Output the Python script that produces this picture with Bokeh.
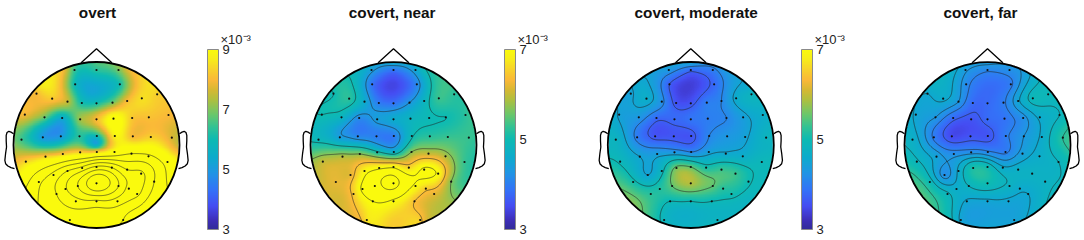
import numpy as np
from bokeh.embed import file_html
from bokeh.resources import INLINE
from bokeh.plotting import figure
from bokeh.layouts import row
from bokeh.models import ColorBar, LinearColorMapper, FixedTicker, Range1d
from bokeh.core.properties import value
from contourpy import contour_generator

TITLES = ["overt", "covert, near", "covert, moderate", "covert, far"]
TITLE_DX = [1, -1.3, 5.4, -7]
RANGES = [(3, 9), (3, 7), (3, 7), (3, 7)]
TICKS = [[3, 5, 7, 9], [3, 5, 7], [3, 5, 7], None]
LEVELS = [
    [10, 11, 12, 13, 14, 15],
    [4.3, 5.0, 5.7, 6.4, 7.1, 7.7],
    [3.7, 4.1, 4.5, 4.95, 5.5],
    [3.7, 4.05, 4.3, 4.55, 4.8, 5.2],
]

# electrode positions, offsets from head centre in units of 1/249 head radius
SENSOR_DX = [-66, 0, 66, -64, 70,
             -180, -133, -87, -44, 0, 48, 92, 136, 182,
             -215, -156, -103, -49, 0, 51, 107, 157, 216,
             -225, -161, -107, -51, 1, 55, 109, 163, 226,
             -212, -153, -101, -49, 1, 54, 105, 156, 213,
             -173, -129, -87, -43, 0, 46, 92, 134, 173,
             -120, -93, -56, 0, 66, 97, 122,
             -62, 0, 63, -80, 80]
SENSOR_DY = [225, 225, 225, 182, 182,
             154, 139, 130, 126, 125, 127, 132, 140, 152,
             91, 83, 81, 77, 77, 79, 81, 83, 90,
             16, 23, 26, 26, 27, 27, 26, 24, 22,
             -50, -35, -27, -22, -21, -21, -26, -34, -51,
             -111, -90, -78, -69, -66, -68, -74, -86, -110,
             -147, -132, -123, -115, -123, -131, -147,
             -169, -169, -169, -225, -225]

OVERT = [6.4, 6.3, 6.9, 5.9, 6.1,
         8.0, 8.2, 7.5, 6.1, 6.1, 6.9, 8.0, 8.5, 8.3,
         7.9, 6.8, 5.4, 7.2, 8.0, 9.3, 8.2, 8.1, 8.0,
         6.5, 5.0, 5.0, 6.3, 6.0, 8.8, 8.0, 8.3, 7.7,
         8.4, 8.3, 8.2, 8.3, 8.3, 9.2, 10.0, 10.2, 9.6,
         10.8, 11.3, 12.0, 12.3, 13.2, 13.0, 12.0, 12.2, 11.0,
         12.0, 12.9, 14.0, 16.0, 14.0, 12.7, 12.2,
         12.6, 12.8, 12.5, 11.6, 11.0]
NEAR = [4.4, 3.9, 4.5, 3.9, 4.1,
        5.0, 5.2, 4.6, 4.0, 3.9, 4.3, 4.8, 5.3, 5.2,
        5.0, 4.8, 4.15, 4.4, 4.6, 4.8, 4.95, 5.0, 5.2,
        4.9, 4.4, 4.1, 4.0, 4.0, 4.95, 5.2, 5.3, 5.3,
        6.0, 5.9, 5.7, 5.1, 4.7, 5.7, 6.0, 5.9, 5.3,
        6.2, 6.2, 6.9, 7.0, 7.0, 6.6, 7.2, 7.0, 5.7,
        6.5, 7.2, 7.5, 7.9, 7.0, 6.5, 6.2,
        7.1, 7.0, 6.4, 6.7, 6.5]
MODERATE = [4.3, 3.8, 4.0, 3.7, 3.8,
            4.45, 4.65, 4.2, 3.6, 3.6, 4.0, 4.1, 4.6, 4.8,
            4.45, 4.3, 3.8, 3.8, 3.9, 4.0, 4.1, 4.4, 4.65,
            4.8, 4.0, 3.6, 3.6, 3.6, 4.1, 4.3, 4.45, 4.8,
            4.9, 4.5, 4.4, 4.3, 4.1, 4.4, 4.55, 4.65, 4.9,
            5.05, 4.5, 4.85, 5.6, 5.5, 5.1, 5.3, 5.3, 5.0,
            5.2, 5.15, 5.5, 5.9, 5.5, 5.2, 5.05,
            4.95, 4.95, 4.95, 4.85, 4.8]
FAR = [4.35, 4.1, 4.2, 4.15, 4.0,
       4.55, 4.6, 4.3, 3.8, 3.8, 4.0, 4.5, 4.9, 4.9,
       4.5, 4.3, 3.8, 3.6, 3.8, 3.9, 4.2, 4.6, 4.8,
       4.7, 4.0, 3.5, 3.6, 3.6, 4.0, 4.3, 4.6, 5.2,
       4.85, 4.45, 4.2, 4.2, 4.1, 4.0, 4.4, 4.65, 4.8,
       4.95, 4.2, 4.6, 5.1, 5.0, 4.6, 4.7, 4.75, 4.75,
       4.85, 4.65, 4.8, 5.0, 4.75, 4.6, 4.55,
       4.52, 4.5, 4.5, 4.5, 4.45]
SENSOR_VALUES = [OVERT, NEAR, MODERATE, FAR]

# values on the head rim, clockwise from the nose, every 22.5 degrees
RIM_OVERT = [6.6, 7.8, 8.5, 8.0, 7.5, 9.6, 10.2, 10.5, 11.1, 11.5, 11.0, 9.0, 7.0, 8.0, 8.5, 7.8]
RIM_NEAR = [4.6, 5.0, 5.3, 5.3, 5.2, 5.2, 5.8, 6.2, 6.5, 6.4, 6.1, 6.0, 5.1, 5.0, 5.1, 4.7]
RIM_MODERATE = [4.5, 4.3, 4.6, 4.7, 4.8, 4.9, 4.8, 4.8, 4.8, 5.0, 5.7, 5.3, 4.8, 4.6, 4.5, 4.4]
RIM_FAR = [4.4, 4.3, 4.9, 4.9, 5.3, 4.85, 4.8, 4.5, 4.5, 4.7, 5.4, 5.3, 4.8, 4.6, 4.7, 4.6]
RIM_VALUES = [RIM_OVERT, RIM_NEAR, RIM_MODERATE, RIM_FAR]

# extra read-off points between electrodes: (dx, dy, value)
EXTRA = [[(0, 4, 5.2)], [], [], []]

# head outline shape in head radii
NOSE_X = [-0.185, 0.0, 0.185]
NOSE_Y = [0.99, 1.16, 0.99]
EAR_X = [-1.0, -1.03, -1.056, -1.078, -1.088, -1.088, -1.084, -1.095, -1.104, -1.095, -1.068, -1.03, -0.988]
EAR_Y = [0.135, 0.155, 0.165, 0.15, 0.116, 0.05, -0.024, -0.10, -0.185, -0.225, -0.253, -0.272, -0.285]

# parula-like colour nodes
NODE_POS = [0, .05, .13, .22, .31, .40, .50, .57, .64, .72, .78, .83, .89, .95, 1]
NODE_RGB = [(.20, .17, .60), (.24, .18, .72), (.27, .30, .95), (.20, .45, .97), (.13, .58, .90),
            (.05, .67, .80), (.05, .73, .70), (.20, .76, .58), (.42, .78, .42), (.68, .75, .25),
            (.85, .72, .20), (.98, .72, .22), (.97, .82, .17), (.97, .93, .10), (.98, .98, .05)]

pos = np.linspace(0, 1, 256)
rgb = np.array([np.interp(pos, NODE_POS, [c[i] for c in NODE_RGB]) for i in range(3)]).T
PALETTE = ["#%02x%02x%02x" % tuple(int(round(v * 255)) for v in c) for c in rgb]

PANEL_W = [280, 295, 295, 214]
HEAD_CX = [96, 113, 115.3, 117]
BAR_X = [207, 224, 226, None]
H = 240
CY = 144.5
R = 83.0
FONT = "Liberation Sans"


def surface(sx, sy, sv, gx, gy):
    d = np.hypot(sx[:, None] - sx[None, :], sy[:, None] - sy[None, :])
    with np.errstate(divide="ignore", invalid="ignore"):
        G = np.where(d > 0, d ** 2 * (np.log(d) - 1), 0.0)
    w = np.linalg.solve(G, sv)
    dd = np.hypot(gx[..., None] - sx, gy[..., None] - sy)
    with np.errstate(divide="ignore", invalid="ignore"):
        K = np.where(dd > 0, dd ** 2 * (np.log(dd) - 1), 0.0)
    return K @ w


def panel(i):
    w = PANEL_W[i]
    cx = HEAD_CX[i]
    p = figure(width=w, height=H, output_backend="svg", toolbar_location=None,
               x_range=Range1d(-cx / R, (w - cx) / R), y_range=Range1d((CY - H) / R, CY / R),
               min_border=0, outline_line_color=None, background_fill_color="white")
    p.axis.visible = False
    p.grid.visible = False

    sx = np.array(SENSOR_DX) / 249.0
    sy = np.array(SENSOR_DY) / 249.0
    ang = np.radians(np.arange(16) * 22.5)
    rx, ry = np.sin(ang), np.cos(ang)
    ax = np.concatenate([sx, rx, [e[0] / 249.0 for e in EXTRA[i]]])
    ay = np.concatenate([sy, ry, [e[1] / 249.0 for e in EXTRA[i]]])
    av = np.concatenate([SENSOR_VALUES[i], RIM_VALUES[i], [e[2] for e in EXTRA[i]]])

    n = 260
    g = np.linspace(-1, 1, n)
    gx, gy = np.meshgrid(g, g)
    z = surface(ax, ay, av, gx, gy)
    mask = np.hypot(gx, gy) > 1.0
    low, high = RANGES[i]
    mapper = LinearColorMapper(palette=PALETTE, low=low, high=high, nan_color=(0, 0, 0, 0))
    img = np.where(mask, np.nan, z)
    p.image(image=[img], x=-1, y=-1, dw=2, dh=2, color_mapper=mapper)

    gen = contour_generator(g, g, np.ma.array(z, mask=np.hypot(gx, gy) > 1.01))
    xs, ys = [], []
    for lev in LEVELS[i]:
        for seg in gen.lines(lev):
            xs.append(seg[:, 0])
            ys.append(seg[:, 1])
    p.multi_line(xs, ys, line_color="#222222", line_width=0.7, line_alpha=0.85)

    p.scatter(sx, sy, size=2.2, color="#111111", line_color=None)

    p.circle(x=[0], y=[0], radius=1.0, fill_color=None, line_color="black", line_width=1.8)
    p.line(NOSE_X, NOSE_Y, line_color="black", line_width=1.3)
    p.line(EAR_X, EAR_Y, line_color="black", line_width=1.3)
    p.line([-v for v in EAR_X], EAR_Y, line_color="black", line_width=1.3)

    p.text(x=[TITLE_DX[i] / R], y=[(CY - 11.5) / R], text=[TITLES[i]], text_align="center", text_baseline="middle",
           text_font=value(FONT), text_font_style="bold", text_font_size="15.3px", text_color="#111111")

    if BAR_X[i] is not None:
        bar = ColorBar(color_mapper=mapper, location=(BAR_X[i], H - 229), width=11, height=180,
                       ticker=FixedTicker(ticks=TICKS[i]), padding=0, margin=0,
                       major_tick_line_color=None, minor_tick_line_color=None,
                       bar_line_color="#8a8a8a", bar_line_width=1,
                       background_fill_color=None, border_line_color=None,
                       major_label_text_font=FONT, major_label_text_font_size="13px",
                       major_label_text_color="#222222", label_standoff=4)
        p.add_layout(bar, "center")
        p.text(x=[(BAR_X[i] + 13 - cx) / R], y=[(CY - 39) / R], text=["×10⁻³"], text_align="left",
               text_baseline="middle", text_font=value(FONT), text_font_size="13px", text_color="#222222")
    return p


layout = row([panel(i) for i in range(4)], spacing=0, margin=0)
open("out.html", "w").write(file_html(layout, INLINE))
